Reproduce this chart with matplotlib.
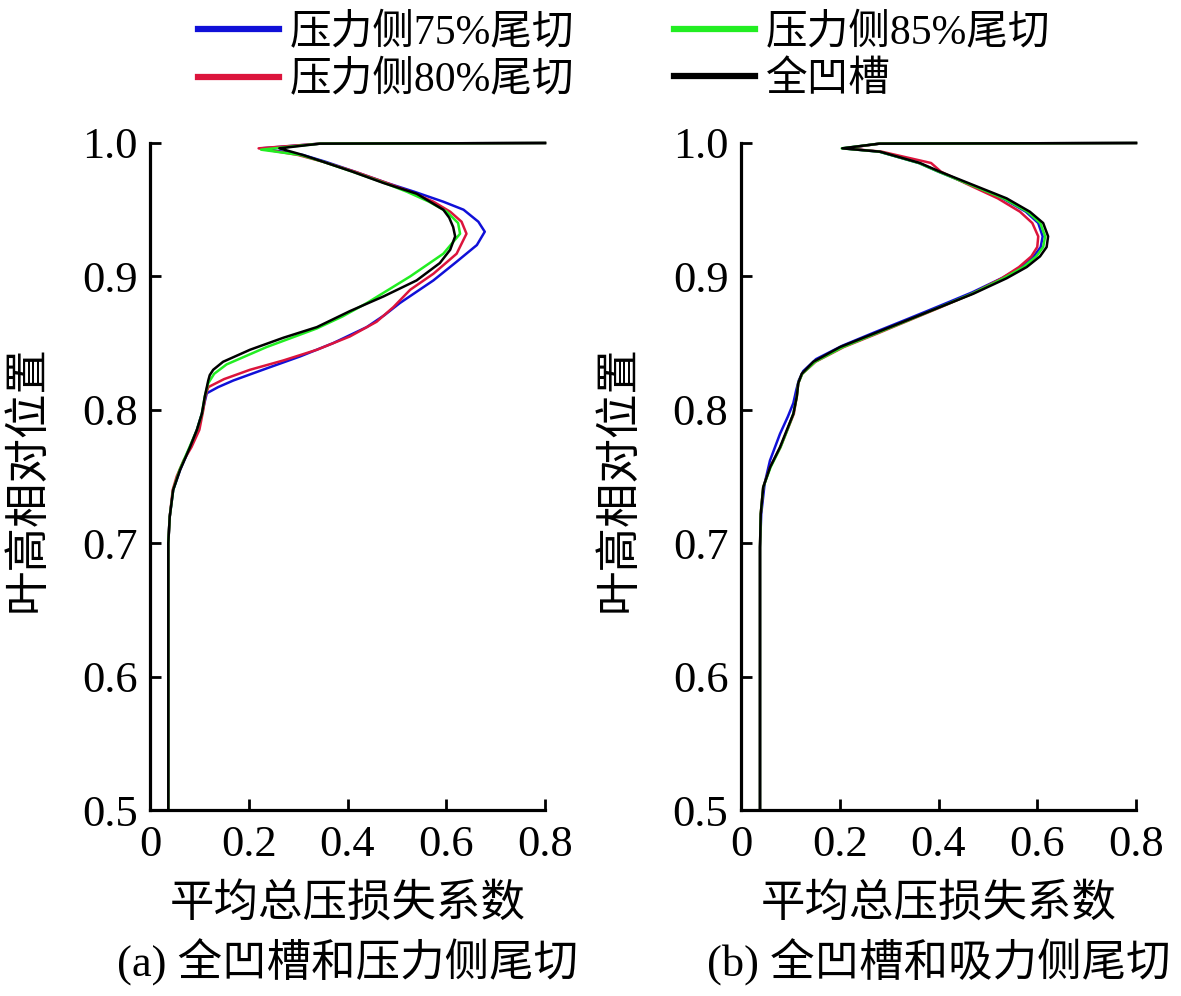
import numpy as np
import matplotlib
matplotlib.use("Agg")
import matplotlib.pyplot as plt
from matplotlib.lines import Line2D

plt.rcParams['font.family'] = ['Liberation Serif', 'Noto Sans CJK SC', 'DejaVu Sans']

labels = ["压力侧75%尾切", "压力侧80%尾切", "压力侧85%尾切", "全凹槽"]
colors = ["#1010d8", "#dc143c", "#22ee22", "#000000"]

xticks = [0, 0.2, 0.4, 0.6, 0.8]
xtick_labels = ["0", "0.2", "0.4", "0.6", "0.8"]
yticks = [0.5, 0.6, 0.7, 0.8, 0.9, 1.0]
ytick_labels = ["0.5", "0.6", "0.7", "0.8", "0.9", "1.0"]

# ---- panel (a): full groove vs pressure-side cut ----
a_y_75 = [0.5, 0.70, 0.72, 0.74, 0.755, 0.772, 0.785, 0.797, 0.8124, 0.817, 0.822, 0.831, 0.84, 0.85,
          0.862, 0.871, 0.88, 0.897, 0.911, 0.9235, 0.9335, 0.941, 0.95, 0.956, 0.9635, 0.97, 0.9785,
          0.986, 0.991, 0.996, 0.9995, 1.0]
a_x_75 = [0.037, 0.037, 0.040, 0.047, 0.061, 0.081, 0.095, 0.105, 0.115, 0.138, 0.169, 0.236, 0.304, 0.371,
          0.439, 0.475, 0.506, 0.574, 0.621, 0.662, 0.678, 0.665, 0.635, 0.594, 0.535, 0.48, 0.415,
          0.355, 0.31, 0.225, 0.344, 0.8]

a_y_80 = [0.5, 0.70, 0.72, 0.74, 0.75, 0.762, 0.772, 0.785, 0.80, 0.81, 0.817, 0.823, 0.830, 0.837, 0.845,
          0.855, 0.866, 0.877, 0.89, 0.902, 0.917, 0.932, 0.941, 0.9485, 0.956, 0.9635, 0.97, 0.9785,
          0.986, 0.991, 0.996, 0.9995, 1.0]
a_x_80 = [0.037, 0.037, 0.040, 0.046, 0.054, 0.068, 0.084, 0.100, 0.108, 0.112, 0.118, 0.150, 0.2025, 0.270,
          0.338, 0.405, 0.459, 0.493, 0.527, 0.574, 0.621, 0.641, 0.631, 0.608, 0.574, 0.527, 0.48, 0.415,
          0.35, 0.30, 0.22, 0.344, 0.8]

a_y_85 = [0.5, 0.70, 0.72, 0.74, 0.755, 0.772, 0.785, 0.797, 0.81, 0.82, 0.827, 0.834, 0.847, 0.861, 0.870,
          0.880, 0.900, 0.917, 0.932, 0.940, 0.9485, 0.956, 0.9635, 0.97, 0.9785, 0.986, 0.991, 0.995,
          0.9995, 1.0]
a_x_85 = [0.037, 0.037, 0.040, 0.047, 0.060, 0.080, 0.095, 0.105, 0.111, 0.118, 0.130, 0.155, 0.236, 0.338,
          0.39, 0.439, 0.527, 0.594, 0.628, 0.624, 0.601, 0.565, 0.52, 0.475, 0.41, 0.35, 0.305, 0.225,
          0.344, 0.8]

a_y_full = [0.5, 0.70, 0.72, 0.74, 0.755, 0.772, 0.785, 0.797, 0.81, 0.822, 0.826, 0.83, 0.836, 0.845,
            0.854, 0.862, 0.874, 0.885, 0.897, 0.91, 0.92, 0.93, 0.937, 0.944, 0.95, 0.962, 0.97, 0.9785,
            0.986, 0.991, 0.996, 0.9995, 1.0]
a_x_full = [0.037, 0.037, 0.040, 0.047, 0.061, 0.081, 0.095, 0.105, 0.111, 0.118, 0.121, 0.128, 0.148,
            0.2025, 0.270, 0.338, 0.405, 0.473, 0.540, 0.587, 0.608, 0.618, 0.614, 0.606, 0.594, 0.540,
            0.473, 0.41, 0.35, 0.31, 0.262, 0.344, 0.8]

# ---- panel (b): full groove vs suction-side cut ----
b_y = [0.5, 0.697, 0.722, 0.742, 0.757, 0.772, 0.785, 0.797, 0.81, 0.82, 0.827, 0.836, 0.847, 0.857,
       0.867, 0.877, 0.887, 0.8986, 0.907, 0.915, 0.922, 0.93, 0.94, 0.9485, 0.9585, 0.9685, 0.9785,
       0.985, 0.9935, 0.996, 0.9995, 1.0]
b_y_75 = [0.5, 0.697, 0.722, 0.745, 0.762, 0.782, 0.795, 0.805, 0.815, 0.822, 0.829, 0.838, 0.848, 0.858,
          0.868, 0.878, 0.888, 0.899, 0.907, 0.915, 0.922, 0.93, 0.94, 0.9485, 0.9585, 0.9685, 0.9785,
          0.985, 0.9935, 0.996, 0.9995, 1.0]
b_x_75 = [0.0385, 0.0385, 0.041, 0.048, 0.0587, 0.079, 0.095, 0.106, 0.112, 0.117, 0.126, 0.152, 0.205,
          0.27, 0.337, 0.403, 0.468, 0.53, 0.568, 0.593, 0.607, 0.611, 0.602, 0.577, 0.53, 0.466, 0.40,
          0.36, 0.28, 0.207, 0.28, 0.8]
b_x_80 = [0.0385, 0.0385, 0.040, 0.045, 0.059, 0.080, 0.094, 0.107, 0.113, 0.116, 0.124, 0.151, 0.208,
          0.275, 0.34, 0.405, 0.468, 0.528, 0.563, 0.588, 0.600, 0.602, 0.590, 0.565, 0.52, 0.462, 0.405,
          0.385, 0.285, 0.21, 0.28, 0.8]
b_x_85 = [0.0385, 0.0385, 0.040, 0.045, 0.060, 0.080, 0.094, 0.106, 0.113, 0.116, 0.124, 0.150, 0.206,
          0.272, 0.338, 0.403, 0.468, 0.532, 0.572, 0.598, 0.612, 0.616, 0.606, 0.580, 0.532, 0.466, 0.40,
          0.36, 0.28, 0.204, 0.28, 0.8]
b_x_full = [0.0385, 0.0385, 0.040, 0.045, 0.059, 0.079, 0.093, 0.106, 0.113, 0.116, 0.123, 0.1465, 0.2005,
            0.268, 0.3356, 0.403, 0.4705, 0.538, 0.5786, 0.6056, 0.619, 0.622, 0.612, 0.585, 0.538, 0.4705,
            0.403, 0.3625, 0.2815, 0.205, 0.28, 0.8]

panels = [
    {"x": [a_x_75, a_x_80, a_x_85, a_x_full], "y": [a_y_75, a_y_80, a_y_85, a_y_full],
     "caption": "(a) 全凹槽和压力侧尾切"},
    {"x": [b_x_75, b_x_80, b_x_85, b_x_full], "y": [b_y_75, b_y, b_y, b_y],
     "caption": "(b) 全凹槽和吸力侧尾切"},
]

W, H = 1181, 996
fig = plt.figure(figsize=(W / 100, H / 100), dpi=100)
lefts = [150, 741]
ax_w, ax_top, ax_bot = 395, 143, 810

for i, p in enumerate(panels):
    ax = fig.add_axes([lefts[i] / W, 1 - ax_bot / H, ax_w / W, (ax_bot - ax_top) / H])
    for xs, ys, c in zip(p["x"], p["y"], colors):
        ax.plot(xs, ys, color=c, lw=1.8, solid_joinstyle='round', clip_on=False)
    ax.set_xlim(0, 0.8)
    ax.set_ylim(0.5, 1.0)
    ax.set_xticks(xticks)
    ax.set_xticklabels(xtick_labels)
    ax.set_yticks(yticks)
    ax.set_yticklabels(ytick_labels)
    ax.spines['top'].set_visible(False)
    ax.spines['right'].set_visible(False)
    for s in ['left', 'bottom']:
        ax.spines[s].set_linewidth(2.3)
    ax.tick_params(direction='in', length=8, width=2, labelsize=32)
    ax.tick_params(axis='x', pad=11)
    ax.tick_params(axis='y', pad=9)
    ax.set_facecolor('none')

    cx = (lefts[i] + ax_w / 2) / W
    fig.text(cx, 1 - 905 / H, "平均总压损失系数", ha='center', va='center', fontsize=32)
    fig.text(cx, 1 - 962 / H, p["caption"], ha='center', va='center', fontsize=32)
    fig.text((lefts[i] - 122) / W, 1 - 478 / H, "叶高相对位置", ha='center', va='center',
             rotation=90, fontsize=32)

handles = [Line2D([0], [0], color=c, lw=4.5) for c in colors]
fig.legend(handles, labels, loc='upper left', bbox_to_anchor=(198 / W, 1 - 14 / H), ncol=2,
           frameon=False, fontsize=30, handlelength=1.95, handletextpad=0.25,
           columnspacing=2.4, labelspacing=0.2, borderpad=0, borderaxespad=0)

fig.savefig("out.png", dpi=100)
